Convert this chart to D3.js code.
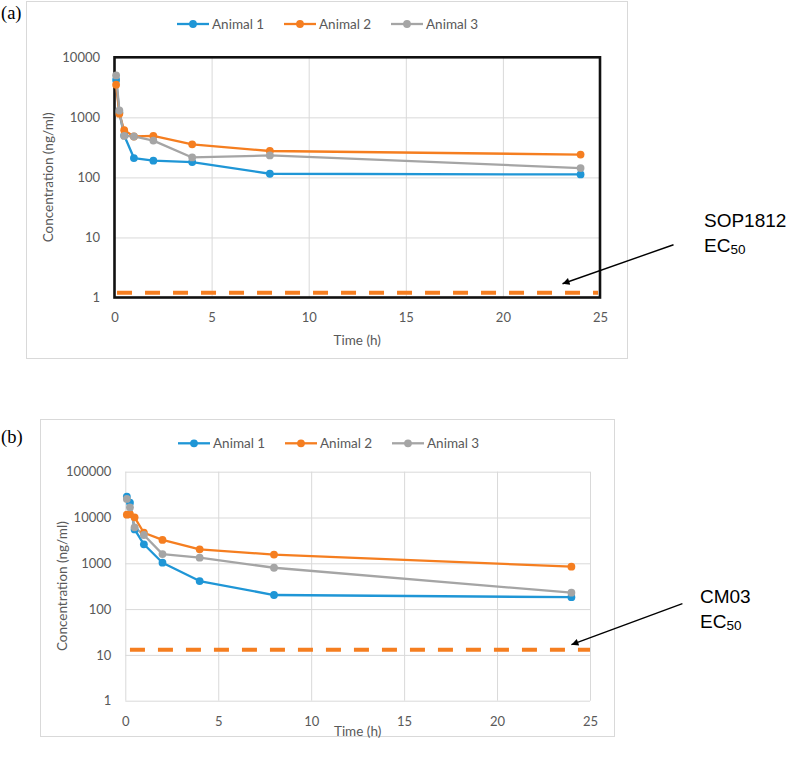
<!DOCTYPE html>
<html><head><meta charset="utf-8">
<script src="https://cdn.jsdelivr.net/npm/d3@7"></script>
<style>body{margin:0;background:#fff;} svg{display:block;}</style>
</head><body><svg id="c" width="789" height="761"></svg>
<script>
// ---------- DATA ----------
const times = [0.083, 0.25, 0.5, 1, 2, 4, 8, 24];
const seriesNames = ["Animal 1", "Animal 2", "Animal 3"];
const seriesColors = ["#1f96d6", "#f57e20", "#a5a5a5"];

// Panel (a) SOP1812 concentrations (ng/ml)
const aAnimal1 = [4200, 1200, 500, 210, 190, 180, 115, 112];
const aAnimal2 = [3500, 1150, 610, 480, 490, 355, 275, 240];
const aAnimal3 = [5000, 1300, 490, 480, 410, 215, 232, 143];
const aEC50 = 1.2;
const aEC50Times = [0.13, 24.9];

// Panel (b) CM03 concentrations (ng/ml)
const bAnimal1 = [28400, 21000, 5500, 2600, 1030, 410, 203, 182];
const bAnimal2 = [11500, 11800, 10100, 4650, 3240, 2020, 1550, 843];
const bAnimal3 = [25400, 16700, 6100, 4150, 1590, 1330, 800, 228];
const bEC50 = 13;
const bEC50Times = [0.25, 25];

const xTicks = [0, 5, 10, 15, 20, 25];
const aYTicks = [1, 10, 100, 1000, 10000];
const bYTicks = [1, 10, 100, 1000, 10000, 100000];

const xTitle = "Time (h)";
const yTitle = "Concentration (ng/ml)";

// ---------- DRAW ----------
const svg = d3.select("#c");
svg.append("rect").attr("width", 789).attr("height", 761).attr("fill", "#fff");
const FONT = "Lato, 'Open Sans', sans-serif";
const TXT = "#595959";
const GRID = "#d9d9d9";

svg.append("defs").append("marker")
  .attr("id", "arrow").attr("viewBox", "0 0 10 10").attr("refX", 10).attr("refY", 5)
  .attr("markerWidth", 10).attr("markerHeight", 7).attr("markerUnits", "userSpaceOnUse")
  .attr("orient", "auto")
  .append("path").attr("d", "M0,0L10,5L0,10z").attr("fill", "#000");

function panel(o) {
  const g = svg.append("g");
  // outer chart box
  g.append("rect").attr("x", o.box[0] + 0.5).attr("y", o.box[1] + 0.5)
    .attr("width", o.box[2] - o.box[0]).attr("height", o.box[3] - o.box[1])
    .attr("fill", "#fff").attr("stroke", GRID).attr("stroke-width", 1);

  const x = d3.scaleLinear().domain([0, 25]).range([o.x0, o.x1]);
  const y = d3.scaleLog().domain([1, o.yTicks[o.yTicks.length - 1]]).range([o.y1, o.y0]);

  // vertical grid
  const vg = g.append("g").attr("transform", `translate(0,${o.y1})`)
    .call(d3.axisBottom(x).tickValues(o.boxed ? xTicks.slice(1, -1) : xTicks).tickSize(-(o.y1 - o.y0)).tickFormat(""));
  vg.select(".domain").remove();
  vg.selectAll("line").attr("stroke", GRID).attr("stroke-width", 1);
  // horizontal grid
  const hg = g.append("g").attr("transform", `translate(${o.x0},0)`)
    .call(d3.axisLeft(y).tickValues(o.boxed ? o.yTicks.slice(1, -1) : o.yTicks).tickSize(-(o.x1 - o.x0)).tickFormat(""));
  hg.select(".domain").remove();
  hg.selectAll("line").attr("stroke", GRID).attr("stroke-width", 1);

  if (o.boxed) {
    g.append("rect").attr("x", o.x0).attr("y", o.y0).attr("width", o.x1 - o.x0).attr("height", o.y1 - o.y0)
      .attr("fill", "none").attr("stroke", "#111").attr("stroke-width", 2.6);
  }

  // tick labels
  const xa = g.append("g").attr("transform", `translate(0,${o.y1})`)
    .call(d3.axisBottom(x).tickValues(xTicks).tickSize(0).tickPadding(o.xPad).tickFormat(d3.format("d")));
  xa.select(".domain").remove();
  xa.selectAll("text").attr("font-family", FONT).attr("font-size", 13).attr("fill", TXT);
  const ya = g.append("g").attr("transform", `translate(${o.x0},0)`)
    .call(d3.axisLeft(y).tickValues(o.yTicks).tickSize(0).tickPadding(o.yPad).tickFormat(d3.format("d")));
  ya.select(".domain").remove();
  ya.selectAll("text").attr("font-family", FONT).attr("font-size", 13).attr("fill", TXT);

  // axis titles
  g.append("text").attr("x", (o.x0 + o.x1) / 2).attr("y", o.xTitleY)
    .attr("text-anchor", "middle").attr("dominant-baseline", "central")
    .attr("font-family", FONT).attr("font-size", 13.5).attr("fill", TXT).text(xTitle);
  g.append("text").attr("transform", `translate(${o.yTitleX},${(o.y0 + o.y1) / 2}) rotate(-90)`)
    .attr("text-anchor", "middle").attr("dominant-baseline", "central")
    .attr("font-family", FONT).attr("font-size", 13.5).attr("fill", TXT).text(yTitle);

  // EC50 dashed line
  g.append("path")
    .attr("d", d3.line().x(t => x(t)).y(() => y(o.ec50))(o.ecTimes))
    .attr("stroke", "#f57e20").attr("stroke-width", 4).attr("stroke-dasharray", "15,13").attr("fill", "none");

  // series
  const line = d3.line().x((d, i) => x(times[i])).y(d => y(d));
  o.series.forEach((vals, k) => {
    g.append("path").attr("d", line(vals)).attr("fill", "none")
      .attr("stroke", seriesColors[k]).attr("stroke-width", 2.3).attr("stroke-linejoin", "round");
  });
  o.series.forEach((vals, k) => {
    g.selectAll(null).data(vals).enter().append("circle")
      .attr("cx", (d, i) => x(times[i])).attr("cy", d => y(d)).attr("r", 3.9)
      .attr("fill", seriesColors[k]);
  });

  // legend
  seriesNames.forEach((n, k) => {
    const lx = o.legX[k];
    g.append("line").attr("x1", lx).attr("x2", lx + 32).attr("y1", o.legY).attr("y2", o.legY)
      .attr("stroke", seriesColors[k]).attr("stroke-width", 2.3);
    g.append("circle").attr("cx", lx + 16).attr("cy", o.legY).attr("r", 3.9).attr("fill", seriesColors[k]);
    g.append("text").attr("x", lx + 35).attr("y", o.legY).attr("dominant-baseline", "central")
      .attr("font-family", FONT).attr("font-size", 13.5).attr("fill", TXT).text(n);
  });

  // panel label
  svg.append("text").attr("x", 1).attr("y", o.tagY).attr("font-family", "'Liberation Serif', 'Times New Roman', serif")
    .attr("font-size", 18.5).attr("fill", "#000").text(o.tag);

  // annotation arrow
  const tip = [x(o.arrowT), y(o.ec50) - o.arrowLift];
  svg.append("line").attr("x1", tip[0] + o.arrowDx).attr("y1", tip[1] + o.arrowDy)
    .attr("x2", tip[0]).attr("y2", tip[1]).attr("stroke", "#000").attr("stroke-width", 1.4)
    .attr("marker-end", "url(#arrow)");
  const t = svg.append("text").attr("font-family", "'Liberation Sans', Arial, sans-serif")
    .attr("font-size", 19).attr("fill", "#000");
  t.append("tspan").attr("x", o.noteX).attr("y", o.noteY).text(o.compound);
  t.append("tspan").attr("x", o.noteX).attr("y", o.noteY + 24.5).text("EC");
  t.append("tspan").attr("dy", 2.5).attr("font-size", 13.5).text("50");
}

panel({
  tag: "(a)", tagY: 18.5,
  box: [26, 1, 627, 358],
  x0: 114.5, x1: 600, y0: 57.3, y1: 297.5,
  yTicks: aYTicks, boxed: true,
  xPad: 15, yPad: 14.5, xTitleY: 340, yTitleX: 48,
  series: [aAnimal1, aAnimal2, aAnimal3],
  ec50: aEC50, ecTimes: aEC50Times,
  legX: [177, 284, 391], legY: 24,
  arrowT: 23.07, arrowLift: 9, arrowDx: 111, arrowDy: -39,
  noteX: 704, noteY: 227, compound: "SOP1812"
});

panel({
  tag: "(b)", tagY: 443,
  box: [40, 419, 614, 736],
  x0: 125.3, x1: 590, y0: 471.7, y1: 700.7,
  yTicks: bYTicks, boxed: false,
  xPad: 16, yPad: 14, xTitleY: 731, yTitleX: 62,
  series: [bAnimal1, bAnimal2, bAnimal3],
  ec50: bEC50, ecTimes: bEC50Times,
  legX: [178, 285, 392], legY: 443.3,
  arrowT: 24.0, arrowLift: 5, arrowDx: 111, arrowDy: -41,
  noteX: 700, noteY: 603, compound: "CM03"
});
</script>
</body></html>
